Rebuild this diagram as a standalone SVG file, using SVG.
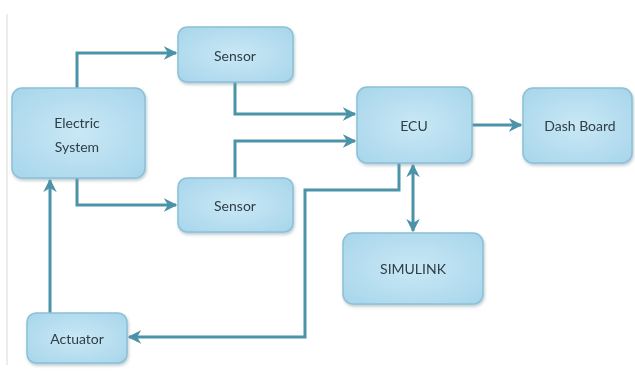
<svg xmlns="http://www.w3.org/2000/svg" width="635" height="381" viewBox="0 0 635 381">
<style>
.box{fill:url(#g);stroke:#8cc0d6;stroke-width:1.5}
.lbl{font-family:Lato,"Open Sans",sans-serif;font-size:14px;fill:#2f3d47;text-anchor:middle;dominant-baseline:central}
.c{fill:none;stroke:#4a93a8;stroke-width:3;stroke-linejoin:miter}
</style>
<defs>
<radialGradient id="g" cx="0.5" cy="0.5" r="0.7">
<stop offset="0" stop-color="#c9e8f5"/>
<stop offset="1" stop-color="#a7d5eb"/>
</radialGradient>
<filter id="sh" x="-10%" y="-10%" width="130%" height="130%">
<feDropShadow dx="1" dy="2" stdDeviation="1.5" flood-color="#7a9aa8" flood-opacity="0.5"/>
</filter>
<marker id="a" viewBox="0 0 10 10" refX="9" refY="5" markerWidth="4.5" markerHeight="4.5" markerUnits="strokeWidth" orient="auto-start-reverse">
<path d="M0,0 L10,5 L0,10 L3,5 Z" fill="#4a93a8"/>
</marker>
</defs>
<rect width="635" height="381" fill="#fff"/>
<line x1="7" y1="14" x2="7" y2="365" stroke="#e6e6e6" stroke-width="1.5"/>
<g id="connectors">
<path class="c" d="M77,88 V53 H176" marker-end="url(#a)"/>
<path class="c" d="M235,82 V114 H355" marker-end="url(#a)"/>
<path class="c" d="M235,178 V141 H355" marker-end="url(#a)"/>
<path class="c" d="M77,178 V205 H176" marker-end="url(#a)"/>
<path class="c" d="M472,125 H521" marker-end="url(#a)"/>
<path class="c" d="M413,165 V231" marker-start="url(#a)" marker-end="url(#a)"/>
<path class="c" d="M399,163 V190 H305 V337 H129" marker-end="url(#a)"/>
<path class="c" d="M50,313 V180" marker-end="url(#a)"/>
</g>
<g id="electric" filter="url(#sh)">
<rect class="box" x="12" y="88" width="133" height="90" rx="10"/>
<text class="lbl" x="77" y="122">Electric</text>
<text class="lbl" x="77" y="146">System</text>
</g>
<g id="sensor1" filter="url(#sh)">
<rect class="box" x="178" y="27" width="115" height="55" rx="9"/>
<text class="lbl" x="235" y="55">Sensor</text>
</g>
<g id="sensor2" filter="url(#sh)">
<rect class="box" x="178" y="178" width="115" height="54" rx="9"/>
<text class="lbl" x="235" y="205">Sensor</text>
</g>
<g id="ecu" filter="url(#sh)">
<rect class="box" x="357" y="87" width="115" height="76" rx="10"/>
<text class="lbl" x="414" y="125">ECU</text>
</g>
<g id="dashboard" filter="url(#sh)">
<rect class="box" x="523" y="88" width="109" height="75" rx="10"/>
<text class="lbl" x="580" y="125">Dash Board</text>
</g>
<g id="simulink" filter="url(#sh)">
<rect class="box" x="343" y="233" width="140" height="71" rx="10"/>
<text class="lbl" x="413" y="268">SIMULINK</text>
</g>
<g id="actuator" filter="url(#sh)">
<rect class="box" x="27" y="313" width="100" height="50" rx="9"/>
<text class="lbl" x="77" y="338">Actuator</text>
</g>
</svg>
